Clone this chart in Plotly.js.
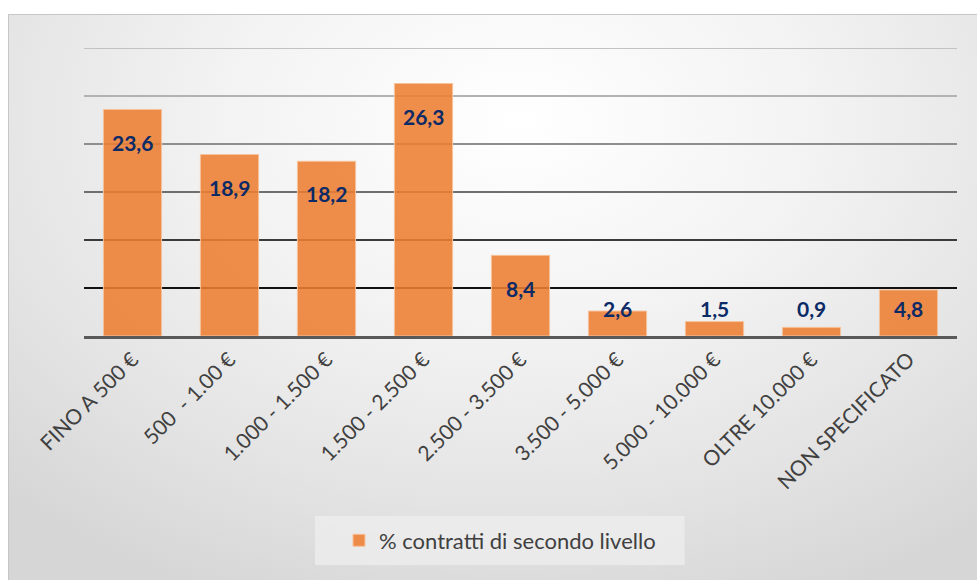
<!DOCTYPE html>
<html>
<head>
<meta charset="utf-8">
<script src="https://cdn.plot.ly/plotly-3.0.1.min.js"></script>
<style>
  html, body { margin: 0; padding: 0; background: #ffffff; width: 977px; height: 580px; overflow: hidden; }
  #frame {
    position: absolute; left: 8px; top: 14px; width: 980px; height: 580px;
    border-left: 1px solid #c6c6c6; border-top: 1px solid #c6c6c6;
    background: radial-gradient(ellipse 75% 90% at 52% 18%, #ffffff 0%, #f3f3f3 40%, #e3e3e3 75%, #d6d6d6 100%);
  }
  #chart { position: absolute; left: 0; top: 0; width: 977px; height: 580px; }
</style>
</head>
<body>
<div id="frame"></div>
<div id="chart"></div>
<script>
const categories = ["FINO A 500 €", "500 \u00a0- 1.00 €", "1.000 - 1.500 €", "1.500 - 2.500 €", "2.500 - 3.500 €",
                    "3.500 - 5.000 €", "5.000 - 10.000 €", "OLTRE 10.000 €", "NON SPECIFICATO"];
const values = [23.6, 18.9, 18.2, 26.3, 8.4, 2.6, 1.5, 0.9, 4.8];
const seriesName = "% contratti di secondo livello";
const gridValues = [5, 10, 15, 20, 25, 30];

const gridColors = ['#111111', '#3a3a3a', '#6e6e6e', '#8e8e8e', '#b2b2b2', '#c2c2c2'];
const fmt = v => v.toFixed(1).replace('.', ',');

const trace = {
  type: 'bar',
  x: categories,
  y: values,
  name: seriesName,
  width: 0.6,
  marker: { color: 'rgba(237,125,49,0.88)', line: { color: '#f6c39c', width: 1 } },
  hoverinfo: 'skip',
  showlegend: true
};

const shapes = gridValues.map((g, i) => ({
  type: 'line', xref: 'paper', yref: 'y', x0: 0, x1: 1, y0: g, y1: g,
  line: { color: gridColors[i], width: 2 }, layer: 'below'
}));
shapes.push({
  type: 'rect', xref: 'paper', yref: 'paper',
  x0: 0.2646, x1: 0.688, y0: -0.625, y1: -0.795,
  fillcolor: 'rgba(236,236,236,0.85)', line: { width: 0 }, layer: 'below'
});

const annotations = values.map((v, i) => ({
  x: categories[i], y: Math.max(v - 3.4, 2.85), xref: 'x', yref: 'y',
  text: '<b>' + fmt(v) + '</b>', showarrow: false,
  font: { family: 'Lato, "Open Sans", sans-serif', size: 21, color: '#0b2a66' },
  xanchor: 'center', yanchor: 'middle'
}));

const layout = {
  width: 977, height: 580,
  paper_bgcolor: 'rgba(0,0,0,0)', plot_bgcolor: 'rgba(0,0,0,0)',
  margin: { l: 84, r: 20, t: 48, b: 244 },
  font: { family: 'Lato, "Open Sans", sans-serif', color: '#404040' },
  xaxis: {
    type: 'category', tickangle: -45, showgrid: false, zeroline: false,
    showline: true, linecolor: '#595959', linewidth: 3,
    ticks: '', tickfont: { size: 21, color: '#404040' }, fixedrange: true
  },
  yaxis: {
    range: [0, 30], showgrid: false, zeroline: false, showticklabels: false,
    ticks: '', showline: false, fixedrange: true
  },
  bargap: 0.4,
  showlegend: true,
  legend: {
    orientation: 'h', x: 0.4765, xanchor: 'center', y: -0.71, yanchor: 'middle',
    bgcolor: 'rgba(0,0,0,0)', font: { size: 22, color: '#404040' }
  },
  shapes: shapes,
  annotations: annotations
};

Plotly.newPlot('chart', [trace], layout, { displayModeBar: false, staticPlot: true });
</script>
</body>
</html>
